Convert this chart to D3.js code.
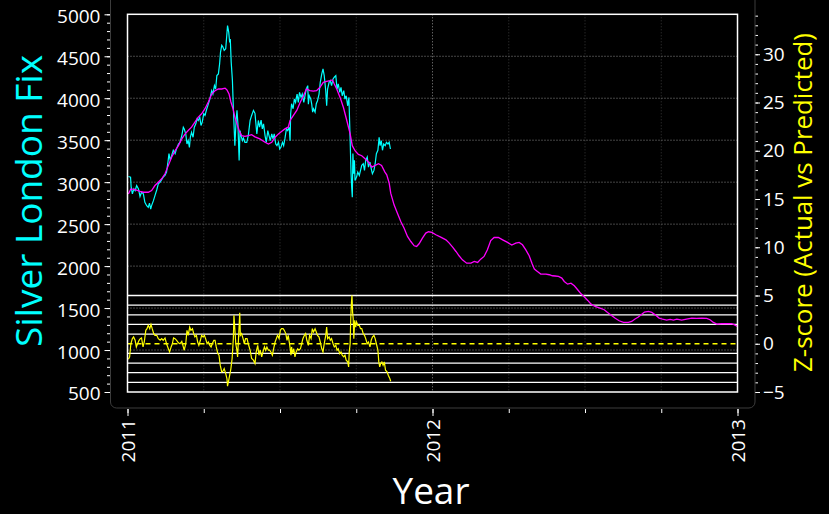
<!DOCTYPE html>
<html><head><meta charset="utf-8">
<script src="https://cdn.jsdelivr.net/npm/d3@7"></script>
<style>html,body{margin:0;padding:0;background:#000;}svg{display:block;}</style>
</head><body>
<svg id="c" width="829" height="514"></svg>
<script>
// ---------- DATA ----------
const yearLabels = [2011, 2012, 2013];
const quarterTicks = [2011, 2011.25, 2011.5, 2011.75, 2012, 2012.25, 2012.5, 2012.75, 2013];
const priceTicks = [500, 1000, 1500, 2000, 2500, 3000, 3500, 4000, 4500, 5000];
const zTicks = [-5, 0, 5, 10, 15, 20, 25, 30];
const zRefLevels = [-4, -3, -2, -1, 1, 2, 3, 4, 5];

// Silver London Fix (actual)
const actualTime = [
2011.003,2011.010,2011.012,2011.016,2011.021,2011.025,2011.030,2011.036,2011.041,2011.046,
2011.052,2011.057,2011.063,2011.068,2011.072,2011.076,2011.079,2011.085,2011.090,2011.096,
2011.101,2011.107,2011.112,2011.117,2011.123,2011.128,2011.132,2011.136,2011.140,2011.145,
2011.150,2011.156,2011.161,2011.167,2011.172,2011.178,2011.183,2011.186,2011.191,2011.195,
2011.199,2011.203,2011.206,2011.210,2011.215,2011.219,2011.224,2011.228,2011.232,2011.237,
2011.241,2011.245,2011.250,2011.254,2011.260,2011.265,2011.270,2011.276,2011.280,2011.285,
2011.289,2011.293,2011.298,2011.302,2011.305,2011.309,2011.313,2011.317,2011.322,2011.325,
2011.328,2011.332,2011.335,2011.337,2011.340,2011.344,2011.347,2011.350,2011.352,2011.356,
2011.359,2011.362,2011.366,2011.369,2011.372,2011.377,2011.380,2011.385,2011.391,2011.396,
2011.402,2011.407,2011.413,
2011.418,2011.424,2011.429,2011.433,2011.438,2011.442,2011.446,2011.451,2011.455,2011.460,
2011.464,2011.468,2011.473,2011.477,2011.481,2011.486,2011.490,2011.495,2011.499,2011.503,
2011.508,2011.512,2011.516,2011.521,2011.525,2011.530,2011.533,2011.535,2011.538,2011.543,
2011.547,2011.551,2011.556,2011.560,2011.564,2011.569,2011.573,2011.578,2011.582,2011.586,
2011.591,2011.593,2011.596,2011.601,2011.604,2011.607,2011.610,2011.615,2011.619,2011.623,
2011.628,2011.632,2011.637,2011.641,2011.645,2011.650,2011.653,2011.656,2011.661,2011.665,
2011.669,2011.674,2011.678,2011.683,2011.687,2011.691,2011.696,2011.700,2011.704,2011.709,
2011.713,2011.717,2011.722,2011.726,2011.730,2011.733,2011.735,2011.737,2011.739,2011.742,
2011.744,2011.746,2011.751,2011.755,2011.760,2011.764,2011.768,2011.773,2011.777,2011.781,
2011.786,2011.790,2011.795,2011.799,2011.803,2011.808,2011.812,2011.816,2011.821,2011.825,
2011.828,2011.832,2011.836,2011.840,2011.845,2011.849,2011.854,2011.858,2011.862];
const actualPrice = [
3067,3060,2940,2860,2920,2900,2960,2920,2830,2880,
2860,2760,2720,2700,2750,2680,2720,2780,2840,2910,
2980,3000,3030,3060,3080,3120,3220,3340,3260,3320,
3380,3340,3400,3455,3475,3555,3655,3635,3575,3455,
3495,3415,3535,3595,3535,3655,3695,3755,3735,3775,
3675,3715,3815,3795,3875,3930,3990,4090,4050,4150,
4110,4270,4290,4410,4550,4630,4610,4570,4590,4725,
4865,4785,4665,4705,4430,4210,3890,3615,3435,3735,
3855,3695,3258,3615,3555,3495,3525,3475,3475,3555,
3735,3795,3855,
3820,3575,3735,3655,3740,3635,3695,3555,3475,3615,
3555,3495,3575,3515,3575,3455,3435,3475,3395,3415,
3475,3435,3515,3635,3615,3655,3495,3815,3935,3875,
3990,3950,4050,3950,4070,4010,4050,3950,4030,4110,
4150,3930,4030,3990,3930,3835,3875,3835,3935,3970,
4050,4190,4290,4350,4270,4090,3910,4110,4190,4210,
4150,4230,4250,4270,4110,4170,4070,4130,4030,4090,
3990,4030,3910,4010,3495,3100,2940,2820,3340,3100,
3260,3020,3060,3120,3080,3140,3200,3220,3140,3260,
3300,3180,3240,3160,3100,3140,3220,3340,3380,3535,
3435,3495,3380,3455,3435,3475,3455,3475,3395];

// Predicted (smoothed) silver fix
const predTime = [
2011.003,2011.011,2011.025,2011.041,2011.052,2011.068,2011.079,2011.090,2011.101,2011.112,
2011.123,2011.134,2011.145,2011.156,2011.167,2011.178,2011.189,2011.199,2011.210,2011.221,
2011.232,2011.243,2011.254,2011.265,2011.276,2011.287,2011.298,2011.309,2011.320,2011.326,
2011.333,2011.339,2011.346,2011.352,2011.359,2011.366,2011.374,2011.385,2011.396,2011.407,
2011.418,2011.434,2011.451,2011.462,2011.473,2011.484,2011.495,2011.505,2011.516,2011.527,
2011.533,2011.544,2011.555,2011.566,2011.577,2011.587,2011.598,2011.609,2011.620,2011.631,
2011.642,2011.653,2011.664,2011.672,2011.678,2011.686,2011.697,2011.708,2011.719,2011.730,
2011.737,2011.746,2011.757,2011.768,2011.779,2011.790,2011.801,2011.812,2011.823,2011.833,
2011.844,2011.850,2011.858,2011.863,2011.874,2011.885,2011.896,2011.907,2011.918,2011.929,
2011.940,2011.948,2011.956,2011.967,2011.978,2011.987,2011.998,2012.011,2012.027,2012.044,
2012.055,2012.066,2012.077,2012.087,2012.098,2012.112,2012.126,2012.137,2012.148,2012.158,
2012.169,2012.180,2012.191,2012.202,2012.216,2012.230,2012.246,2012.260,2012.273,2012.284,
2012.295,2012.306,2012.317,2012.326,2012.334,2012.344,2012.355,2012.372,2012.383,2012.393,
2012.402,2012.413,2012.424,2012.432,2012.443,2012.454,2012.465,2012.476,2012.487,2012.498,
2012.509,2012.520,2012.533,2012.549,2012.563,2012.574,2012.587,2012.598,2012.612,2012.626,
2012.642,2012.653,2012.664,2012.675,2012.684,2012.695,2012.708,2012.719,2012.730,2012.743,
2012.754,2012.768,2012.779,2012.790,2012.801,2012.817,2012.833,2012.850,2012.866,2012.883,
2012.899,2012.910,2012.921,2012.932,2012.948,2012.964,2012.981,2012.992,2013.000];
const predPrice = [
2860,2920,2910,2890,2880,2880,2900,2960,3000,3040,
3100,3200,3300,3375,3435,3515,3575,3615,3655,3715,
3775,3815,3875,3955,4050,4090,4110,4110,4120,4100,
4050,3955,3875,3775,3695,3615,3555,3545,3555,3565,
3540,3515,3475,3455,3475,3535,3575,3605,3635,3655,
3735,3795,3855,3950,4030,4110,4090,4085,4090,4130,
4190,4200,4210,4218,4170,4110,4010,3890,3735,3575,
3435,3375,3330,3315,3278,3240,3180,3200,3220,3200,
3120,3087,2988,2869,2730,2631,2532,2452,2353,2293,
2242,2234,2266,2333,2393,2409,2401,2373,2345,2313,
2274,2226,2174,2123,2075,2035,2035,2055,2043,2083,
2115,2194,2305,2341,2341,2313,2282,2250,2274,2282,
2254,2194,2123,2035,1964,1936,1905,1905,1897,1885,
1882,1877,1857,1817,1785,1797,1765,1718,1670,1631,
1591,1547,1519,1500,1480,1448,1412,1381,1349,1329,
1329,1341,1369,1393,1420,1452,1460,1448,1420,1381,
1369,1357,1365,1357,1369,1357,1369,1381,1377,1381,
1377,1361,1329,1309,1313,1313,1313,1297,1281];

// Z-score (actual vs predicted)
const zTime = [
2011.003,2011.007,2011.011,2011.016,2011.020,2011.025,2011.029,2011.033,2011.038,2011.042,
2011.046,2011.051,2011.055,2011.060,2011.064,2011.068,2011.073,2011.077,2011.081,2011.086,
2011.090,2011.096,2011.101,2011.107,2011.112,2011.117,2011.123,2011.128,2011.134,2011.138,
2011.143,2011.147,2011.151,2011.156,2011.161,2011.167,2011.172,2011.178,2011.183,2011.186,
2011.191,2011.195,2011.199,2011.204,2011.208,2011.213,2011.217,2011.221,2011.226,2011.230,
2011.234,2011.239,2011.243,2011.248,2011.252,2011.256,2011.261,2011.265,2011.270,2011.274,
2011.278,2011.283,2011.287,2011.291,2011.296,2011.300,2011.304,2011.309,2011.313,2011.317,
2011.322,2011.326,2011.328,2011.332,2011.336,2011.339,2011.343,2011.347,2011.349,2011.351,
2011.355,2011.358,2011.361,2011.364,2011.368,2011.370,2011.374,2011.379,2011.383,2011.387,
2011.392,2011.396,2011.402,2011.407,2011.413,2011.418,
2011.422,2011.427,2011.431,2011.435,2011.440,2011.444,2011.449,2011.453,2011.457,2011.462,
2011.466,2011.470,2011.475,2011.479,2011.484,2011.488,2011.492,2011.497,2011.501,2011.505,
2011.510,2011.514,2011.519,2011.523,2011.527,2011.532,2011.536,2011.538,2011.541,2011.545,
2011.549,2011.553,2011.558,2011.562,2011.567,2011.571,2011.575,2011.580,2011.584,2011.588,
2011.593,2011.597,2011.602,2011.606,2011.610,2011.615,2011.619,2011.623,2011.628,2011.632,
2011.637,2011.641,2011.645,2011.650,2011.653,2011.656,2011.661,2011.665,2011.669,2011.674,
2011.678,2011.683,2011.687,2011.691,2011.696,2011.700,2011.704,2011.709,2011.713,2011.717,
2011.722,2011.725,2011.727,2011.730,2011.732,2011.734,2011.736,2011.738,2011.740,2011.742,
2011.745,2011.748,2011.751,2011.755,2011.760,2011.764,2011.768,2011.773,2011.777,2011.781,
2011.786,2011.790,2011.795,2011.799,2011.803,2011.808,2011.812,2011.816,2011.821,2011.824,
2011.827,2011.830,2011.834,2011.838,2011.842,2011.846,2011.851,2011.855,2011.860,2011.863];
const zScore = [
-1.6,-1.36,0,0.53,0.7,0.36,-0.33,0,0.36,0.53,
0.6,-0.33,0.18,1.39,1.56,1.91,1.56,2.01,1.56,1.05,
0.87,0.87,0.53,0.36,0.53,0.36,0.6,0,-0.52,-0.85,
-0.33,0,0.6,0.53,0.36,0.1,0,0.25,-0.33,-0.67,
0,1.39,0.87,1.73,1.39,1.56,1.05,0.7,0.87,0.18,
-0.17,0.36,0.87,0.7,0.87,0.53,0,0.18,-0.17,-0.33,
0,0.36,0.36,-0.33,-1.02,-1.19,-2.22,-2.91,-2.84,-2.57,
-3.09,-3.6,-4.39,-3.77,-3.09,-2.57,-1.53,0.53,2.94,1.98,
0,-0.52,-1.36,0.53,3.22,0.87,1.05,0.53,0,0.53,
0.53,0,-0.67,-1.53,-1.7,-2.05,
-0.85,-0.17,-1.19,-0.67,-1.36,-0.85,-0.33,-0.67,-0.33,-0.67,
-0.67,-0.85,-1.19,-0.52,0.18,0.53,0.87,0.53,1.39,1.56,
1.56,1.39,1.05,0.36,0.87,-0.17,-1.19,-0.33,-1.02,-0.52,
-1.36,-0.85,-0.52,-0.67,-0.52,0,0.53,0.87,1.05,0.36,
-0.17,0.87,0.53,1.56,1.22,1.56,1.22,0.87,0.7,0.18,
-0.52,-0.85,0,0.87,1.73,0.53,0.7,0.36,0.53,0,
-0.33,-0.17,-0.67,-0.52,-1.02,-0.85,-1.19,-1.36,-1.19,-1.7,
-1.88,-2.4,-0.85,0,2.6,4.15,5.01,3.29,2.6,0.53,
2.42,1.73,2.25,1.91,1.91,1.56,1.56,1.05,0.87,0.53,
0,0.18,-0.33,0.36,0.7,0.87,0.53,0,-0.67,-1.88,
-2.4,-2.05,-1.88,-2.22,-1.88,-2.75,-2.91,-3.27,-3.6,-3.88];

// ---------- DRAW ----------
const FONT = "'Open Sans', 'DejaVu Sans', sans-serif";
const svg = d3.select('#c');
const L = 127.5, R = 737.5, T = 14.3, B = 392;
const x = d3.scaleLinear().domain([2011, 2013]).range([L, R]);
const y = d3.scaleLinear().domain([500, 5000]).range([B, T]);
const z = d3.scaleLinear().domain([-5, 34.14]).range([B, T]);

// panel
svg.append('rect').attr('x', 110.5).attr('y', -6).attr('width', 644.5).attr('height', 414)
  .attr('rx', 6).attr('fill', '#000000').attr('stroke', '#3c3c3c').attr('stroke-width', 1);

const plot = svg.append('g');
// vertical grid (quarters)
plot.selectAll('line.vg').data(quarterTicks.filter(d => d > 2011 && d < 2013)).join('line')
  .attr('x1', d => x(d)).attr('x2', d => x(d)).attr('y1', T).attr('y2', B)
  .attr('stroke', d => Number.isInteger(d) ? '#8a8a8a' : '#383838')
  .attr('stroke-width', 1).attr('stroke-dasharray', '1,2');
// horizontal grid (price majors)
plot.selectAll('line.hg').data(priceTicks.filter(d => d > 500 && d < 5000)).join('line')
  .attr('x1', L).attr('x2', R).attr('y1', d => y(d)).attr('y2', d => y(d))
  .attr('stroke', '#8a8a8a').attr('stroke-width', 1).attr('stroke-dasharray', '1,2');
// white z reference lines
plot.selectAll('line.zr').data(zRefLevels).join('line')
  .attr('x1', L).attr('x2', R).attr('y1', d => z(d)).attr('y2', d => z(d))
  .attr('stroke', '#ffffff').attr('stroke-width', 1.3);
// dashed zero line
plot.append('line').attr('x1', L).attr('x2', R).attr('y1', z(0)).attr('y2', z(0))
  .attr('stroke', '#ffff00').attr('stroke-width', 1.3).attr('stroke-dasharray', '5,4');

const lineP = d3.line().x(d => x(d[0])).y(d => y(d[1]));
const lineZ = d3.line().x(d => x(d[0])).y(d => z(d[1]));
plot.append('path').attr('d', lineP(d3.zip(actualTime, actualPrice)))
  .attr('fill', 'none').attr('stroke', '#00ffff').attr('stroke-width', 1.2);
plot.append('path').attr('d', lineP(d3.zip(predTime, predPrice)))
  .attr('fill', 'none').attr('stroke', '#ff00ff').attr('stroke-width', 1.3);
plot.append('path').attr('d', lineZ(d3.zip(zTime, zScore)))
  .attr('fill', 'none').attr('stroke', '#ffff00').attr('stroke-width', 1.2);

// plot border
svg.append('rect').attr('x', L).attr('y', T).attr('width', R - L).attr('height', B - T)
  .attr('fill', 'none').attr('stroke', '#ffffff').attr('stroke-width', 1.5);

function styleAxis(g) {
  g.select('.domain').remove();
  g.selectAll('.tick line').attr('stroke', '#ffffff').attr('stroke-width', 1);
  g.selectAll('.tick text').attr('fill', '#ffffff').style('font-family', FONT).style('font-size', '19px');
}
const fmt = d3.format('d');
// left axis
const priceMinor = d3.range(500, 5001, 100);
svg.append('g').attr('transform', 'translate(110,0)')
  .call(d3.axisLeft(y).tickValues(priceMinor).tickSize(3).tickFormat('')).call(styleAxis);
svg.append('g').attr('transform', 'translate(110,0)')
  .call(d3.axisLeft(y).tickValues(priceTicks).tickSize(5.5).tickPadding(4).tickFormat(fmt)).call(styleAxis)
  .selectAll('.tick text').attr('dy', '0.42em');
// right axis
const zMinor = d3.range(-5, 35, 1);
svg.append('g').attr('transform', 'translate(755.5,0)')
  .call(d3.axisRight(z).tickValues(zMinor).tickSize(2.5).tickFormat('')).call(styleAxis);
svg.append('g').attr('transform', 'translate(755.5,0)')
  .call(d3.axisRight(z).tickValues(zTicks).tickSize(4.5).tickPadding(3).tickFormat(fmt)).call(styleAxis);
// bottom axis
svg.append('g').attr('transform', 'translate(0,409)')
  .call(d3.axisBottom(x).tickValues(quarterTicks).tickSize(4).tickFormat('')).call(styleAxis);
svg.append('g').attr('transform', 'translate(0,409)')
  .call(d3.axisBottom(x).tickValues(yearLabels).tickSize(7).tickFormat('')).call(styleAxis);
svg.selectAll('text.yl').data(yearLabels).join('text').attr('class', 'yl')
  .attr('transform', d => `translate(${x(d) + 1},419) rotate(-90)`)
  .attr('text-anchor', 'end').attr('dy', '0.36em').attr('fill', '#ffffff')
  .style('font-family', FONT).style('font-size', '19px').text(d => fmt(d));

// titles
function fit(t, len) {
  const w = t.node().getComputedTextLength();
  const fs = parseFloat(t.style('font-size'));
  if (w > 0) t.style('font-size', (fs * len / w).toFixed(2) + 'px');
}
const xt = svg.append('text').attr('x', 431).attr('y', 504).attr('text-anchor', 'middle')
  .attr('fill', '#ffffff').style('font-family', FONT).style('font-size', '38px').text('Year');
fit(xt, 77);
const lt = svg.append('text').attr('transform', 'translate(42,201) rotate(-90)')
  .attr('text-anchor', 'middle').attr('fill', '#00ffff')
  .style('font-family', FONT).style('font-size', '36px').text('Silver London Fix');
fit(lt, 292);
const rt = svg.append('text').attr('transform', 'translate(812,202.5) rotate(-90)')
  .attr('text-anchor', 'middle').attr('fill', '#ffff00')
  .style('font-family', FONT).style('font-size', '25px').text('Z-score (Actual vs Predicted)');
fit(rt, 339);
</script>
</body></html>
